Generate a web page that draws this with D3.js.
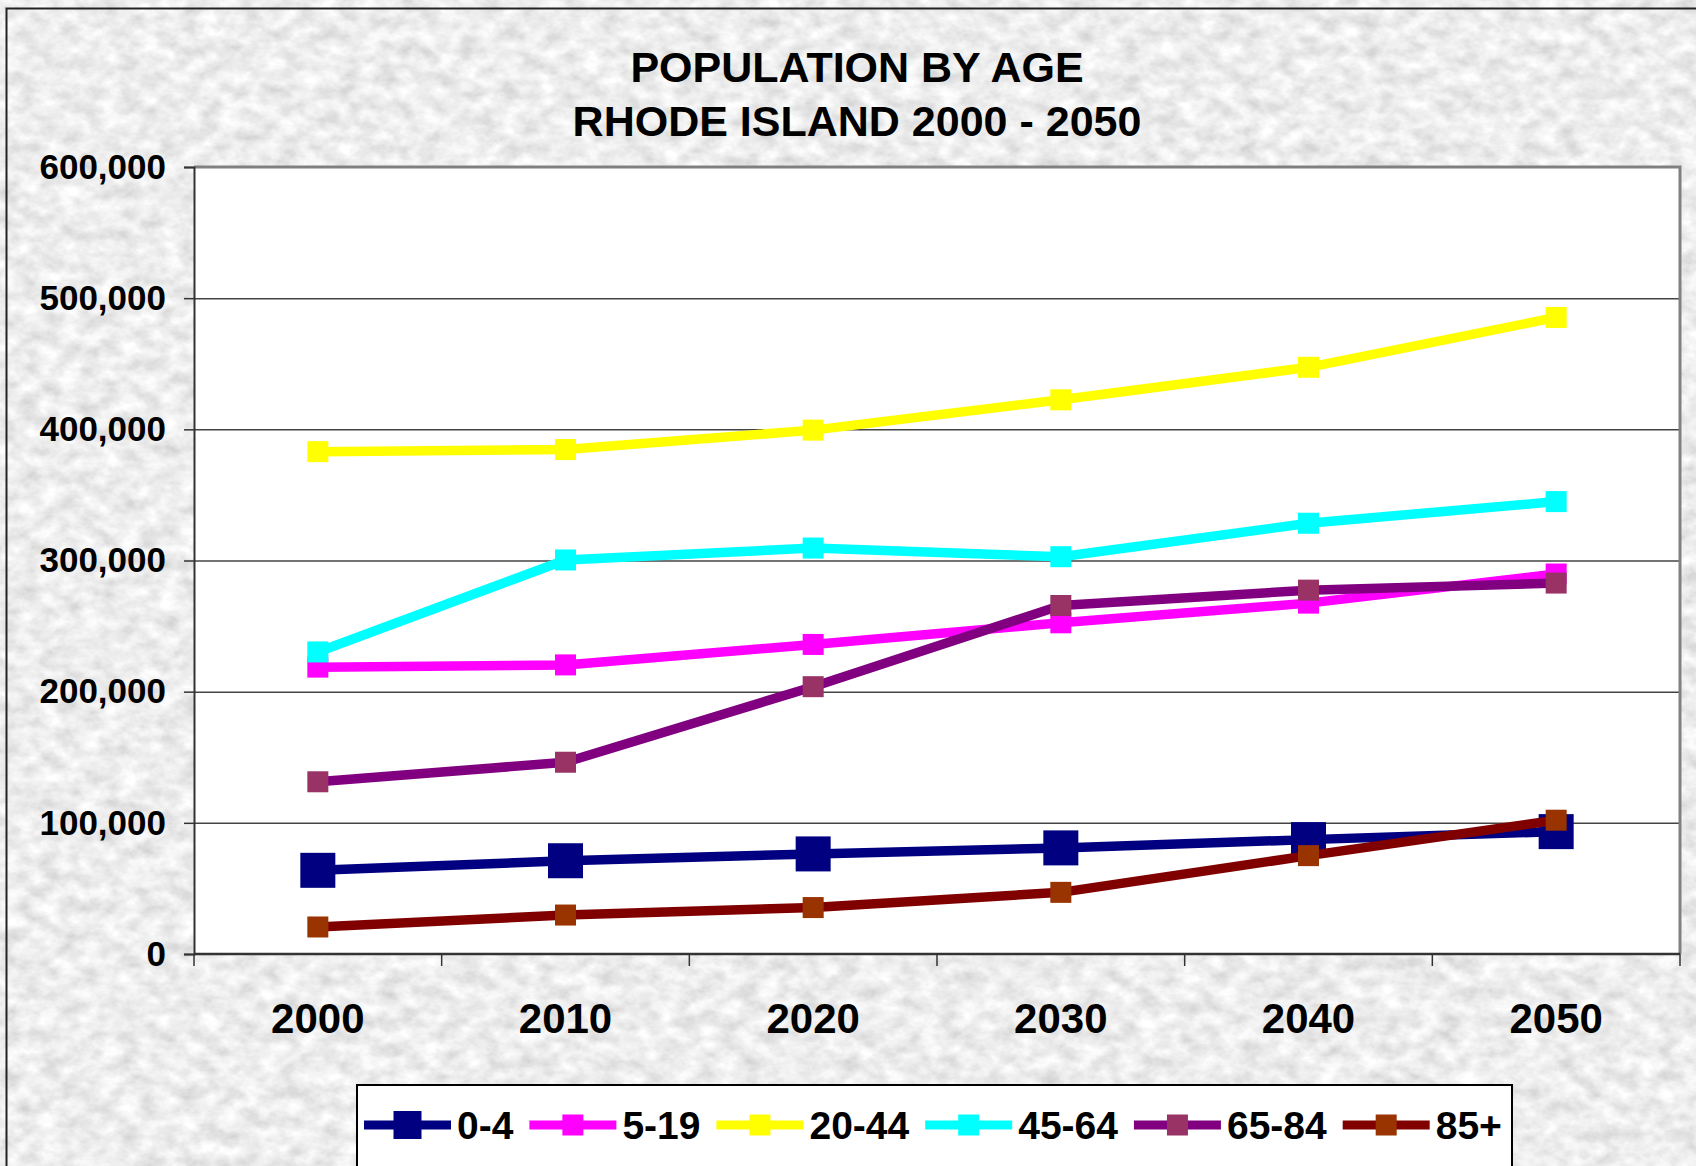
<!DOCTYPE html>
<html>
<head>
<meta charset="utf-8">
<script src="https://cdn.jsdelivr.net/npm/d3@7"></script>
<style>
  body { margin: 0; background: #fff; }
  text { font-family: "Liberation Sans", Arial, sans-serif; font-weight: bold; fill: #000; }
</style>
</head>
<body>
<script>
// data
var years = ["2000", "2010", "2020", "2030", "2040", "2050"];
var seriesNames = ["0-4", "5-19", "20-44", "45-64", "65-84", "85+"];
var age0_4   = [63800, 71100, 76300, 80900, 87200, 93300];
var age5_19  = [218700, 220400, 236000, 252500, 267500, 289700];
var age20_44 = [383000, 384600, 399400, 422500, 447300, 485300];
var age45_64 = [230300, 300400, 309500, 302900, 328400, 344900];
var age65_84 = [131300, 146200, 203800, 265700, 277400, 282800];
var age85up  = [20600, 29700, 35400, 47000, 75000, 102000];
var yTicks = [0, 100000, 200000, 300000, 400000, 500000, 600000];
var lineColors = ["#000080", "#ff00ff", "#ffff00", "#00ffff", "#800080", "#800000"];
var markerColors = ["#000080", "#ff00ff", "#ffff00", "#00ffff", "#993366", "#993300"];

var allValues = [age0_4, age5_19, age20_44, age45_64, age65_84, age85up];
var series = seriesNames.map(function (name, i) {
    return { name: name, values: allValues[i], line: lineColors[i], marker: markerColors[i], big: i === 0 };
});

var W = 1696, H = 1166;
var plot = { left: 194, top: 167, right: 1680, bottom: 954 };

var svg = d3.select("body").append("svg")
    .attr("width", W)
    .attr("height", H);

// marble-ish grey background
var defs = svg.append("defs");
var f = defs.append("filter").attr("id", "marble")
    .attr("filterUnits", "userSpaceOnUse")
    .attr("x", 0).attr("y", 0).attr("width", W).attr("height", H);
f.append("feTurbulence")
    .attr("type", "fractalNoise")
    .attr("baseFrequency", "0.05 0.07")
    .attr("numOctaves", 4)
    .attr("seed", 7);
f.append("feColorMatrix")
    .attr("type", "matrix")
    .attr("values", "0.5 0 0 0 0.6  0.5 0 0 0 0.6  0.5 0 0 0 0.6  0 0 0 0 1");

svg.append("rect")
    .attr("x", 6).attr("y", 8)
    .attr("width", W).attr("height", H)
    .attr("fill", "#dadada")
    .attr("filter", "url(#marble)");
svg.append("path")
    .attr("d", "M6.5," + H + "V8.5H" + W)
    .attr("fill", "none")
    .attr("stroke", "#222")
    .attr("stroke-width", 2);

// title
var title = svg.append("text")
    .attr("x", 857)
    .attr("text-anchor", "middle")
    .style("font-size", "43px");
title.append("tspan").attr("x", 857).attr("y", 82).text("POPULATION BY AGE");
title.append("tspan").attr("x", 857).attr("y", 136).text("RHODE ISLAND 2000 - 2050");

var x = d3.scaleBand()
    .domain(years)
    .range([plot.left, plot.right]);

var y = d3.scaleLinear()
    .domain([0, 600000])
    .range([plot.bottom, plot.top]);

// plot area
svg.append("rect")
    .attr("x", plot.left).attr("y", plot.top)
    .attr("width", plot.right - plot.left)
    .attr("height", plot.bottom - plot.top)
    .attr("fill", "#fff");

// gridlines
svg.append("g")
    .attr("transform", "translate(" + plot.left + ",0)")
    .call(d3.axisLeft(y).tickValues(yTicks.slice(1, -1)).tickSize(-(plot.right - plot.left)).tickFormat(""))
    .call(function (g) {
        g.select(".domain").remove();
        g.selectAll("line").attr("stroke", "#444").attr("stroke-width", 1.5);
    });

svg.append("path")
    .attr("d", "M" + plot.left + "," + plot.top + "H" + plot.right + "V" + plot.bottom)
    .attr("fill", "none")
    .attr("stroke", "#808080")
    .attr("stroke-width", 3);

// y axis
svg.append("g")
    .attr("transform", "translate(" + plot.left + ",0)")
    .call(d3.axisLeft(y).tickValues(yTicks).tickSize(10).tickPadding(18).tickFormat(d3.format(",")))
    .call(function (g) {
        g.select(".domain").attr("stroke", "#333").attr("stroke-width", 2);
        g.selectAll("line").attr("stroke", "#333").attr("stroke-width", 1.5);
        g.selectAll("text").style("font-size", "35px").style("font-family", null).attr("fill", "#000");
    });

// x axis: ticks at category boundaries, labels at centres
var bounds = years.map(function (d) { return x(d); }).concat([plot.right]);
var xg = svg.append("g");
xg.append("line")
    .attr("x1", plot.left).attr("x2", plot.right)
    .attr("y1", plot.bottom).attr("y2", plot.bottom)
    .attr("stroke", "#333").attr("stroke-width", 2.5);
xg.selectAll(".xtick")
    .data(bounds)
    .enter().append("line")
    .attr("x1", function (d) { return d; }).attr("x2", function (d) { return d; })
    .attr("y1", plot.bottom).attr("y2", plot.bottom + 12)
    .attr("stroke", "#333").attr("stroke-width", 1.5);
xg.selectAll(".xlabel")
    .data(years)
    .enter().append("text")
    .attr("x", function (d) { return x(d) + x.bandwidth() / 2; })
    .attr("y", 1033)
    .attr("text-anchor", "middle")
    .style("font-size", "42px")
    .text(function (d) { return d; });

var line = d3.line()
    .x(function (d, i) { return x(years[i]) + x.bandwidth() / 2; })
    .y(function (d) { return y(d); });

series.forEach(function (s) {
    var g = svg.append("g");
    g.append("path")
        .datum(s.values)
        .attr("d", line)
        .attr("fill", "none")
        .attr("stroke", s.line)
        .attr("stroke-width", 9.5)
        .attr("stroke-linejoin", "round");
    var size = s.big ? 35 : 21;
    g.selectAll("rect")
        .data(s.values)
        .enter().append("rect")
        .attr("x", function (d, i) { return x(years[i]) + x.bandwidth() / 2 - size / 2; })
        .attr("y", function (d) { return y(d) - size / 2; })
        .attr("width", size)
        .attr("height", size)
        .attr("fill", s.marker);
});

// legend
var legendBox = { left: 357, top: 1085, right: 1512 };
svg.append("rect")
    .attr("x", legendBox.left).attr("y", legendBox.top)
    .attr("width", legendBox.right - legendBox.left)
    .attr("height", H)
    .attr("fill", "#fff")
    .attr("stroke", "#000")
    .attr("stroke-width", 2);

var lx = 364, ly = 1125;
series.forEach(function (s) {
    var item = svg.append("g").attr("transform", "translate(" + lx + "," + ly + ")");
    item.append("line")
        .attr("x1", 0).attr("x2", 87)
        .attr("stroke", s.line).attr("stroke-width", 9);
    var size = s.big ? 28 : 21;
    item.append("rect")
        .attr("x", 43.5 - size / 2).attr("y", -size / 2)
        .attr("width", size).attr("height", size)
        .attr("fill", s.marker);
    var t = item.append("text")
        .attr("x", 93).attr("y", 14)
        .style("font-size", "39px")
        .text(s.name);
    lx += 93 + t.node().getComputedTextLength() + 16;
});
</script>
</body>
</html>
